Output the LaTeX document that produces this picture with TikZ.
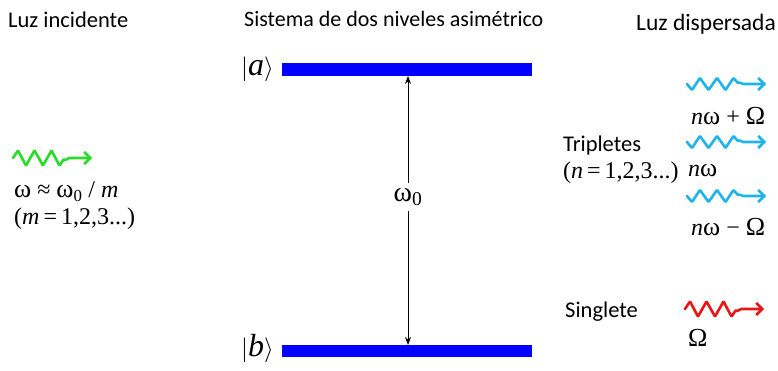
\documentclass[tikz,border=0pt]{standalone}
\usepackage{fontspec}
\setmainfont{Carlito}
\newfontfamily\mathser{Liberation Serif}
\usetikzlibrary{arrows.meta}
\definecolor{wgreen}{RGB}{40,220,40}
\definecolor{wblue}{RGB}{30,180,235}
\definecolor{wred}{RGB}{235,20,20}
\definecolor{barblue}{RGB}{0,0,255}
\newcommand{\gk}[1]{{\fontsize{26}{28}\selectfont #1}}
\tikzset{
  lbl/.style={font=\fontsize{22.5}{24}\selectfont, inner sep=0pt},
  mth/.style={font=\mathser\fontsize{24}{26}\selectfont, inner sep=0pt},
  ket/.style={font=\mathser\fontsize{32}{34}\selectfont, inner sep=0pt},
  level/.style={fill=barblue, draw=none},
  wavestyle/.style={line width=2.6pt, rounded corners=0.8pt, line cap=round,
    -{Straight Barb[length=6pt,width=12pt]}},
  wv/.pic={\draw[wavestyle] (0,0) -- (5,-7.5) -- (13,7.5) -- (21.5,-7.5) -- (30,7.5) -- (38.5,-7.5) -- (46.5,7.5)
     -- (51,1) to[out=-60,in=180] (57,0) -- (79,0);},
}
\begin{document}
\begin{tikzpicture}[x=1pt,y=-1pt]
\useasboundingbox (0,0) rectangle (778,371);
% titles
\node[lbl, anchor=west] (t1) at (8,20) {Luz incidente};
\node[lbl, anchor=west, font=\fontsize{22}{24}\selectfont] (t2) at (244,19) {Sistema de dos niveles asimétrico};
\node[lbl, anchor=west, font=\fontsize{23.5}{25}\selectfont] (t3) at (636,24) {Luz dispersada};
% levels
\fill[level] (282,63) rectangle (532,76);
\fill[level] (282,345) rectangle (532,357);
\coordinate (atop) at (408,76);
\coordinate (bbot) at (408,345);
\node[ket, anchor=east] (ka) at (274,69) {$|${\itshape a}$\rangle$};
\node[ket, anchor=east] (kb) at (274,349) {$|${\itshape b}$\rangle$};
\draw[line width=0.8pt, {Stealth[length=8pt,width=6pt]}-{Stealth[length=8pt,width=6pt]}] (atop) -- (bbot)
  node[pos=0.45, fill=white, inner xsep=1pt, inner ysep=5pt, font=\mathser\fontsize{28}{30}\selectfont] (w0) {ω\textsubscript{0}};
% incident light
\pic[wgreen] at (13,158) {wv};
\node[mth, anchor=west] (inc1) at (14,192) {\gk{ω} ≈ \gk{ω}\textsubscript{0} / {\itshape m}};
\node[mth, anchor=west] (inc2) at (14,219) {({\itshape m}\,=\,1,2,3...)};
% scattered: triplets
\pic[wblue, yscale=-0.8] at (687,84) {wv};
\node[mth, anchor=west] (r1) at (691,116) {{\itshape n}\gk{ω} + \gk{Ω}};
\pic[wblue, yscale=-0.8] at (687,142) {wv};
\node[lbl, anchor=west] (trip) at (563,146) {Tripletes};
\node[mth, anchor=west] (trip2) at (563,173) {({\itshape n}\,=\,1,2,3...)};
\node[mth, anchor=west] (r2) at (688,171) {{\itshape n}\gk{ω}};
\pic[wblue, yscale=-0.8] at (687,196) {wv};
\node[mth, anchor=west] (r3) at (691,227) {{\itshape n}\gk{ω} − \gk{Ω}};
% singlet
\pic[wred] at (685,309) {wv};
\node[lbl, anchor=west] (sing) at (565,312) {Singlete};
\node[mth, anchor=west] (om) at (688,338) {\gk{Ω}};
\end{tikzpicture}
\end{document}
